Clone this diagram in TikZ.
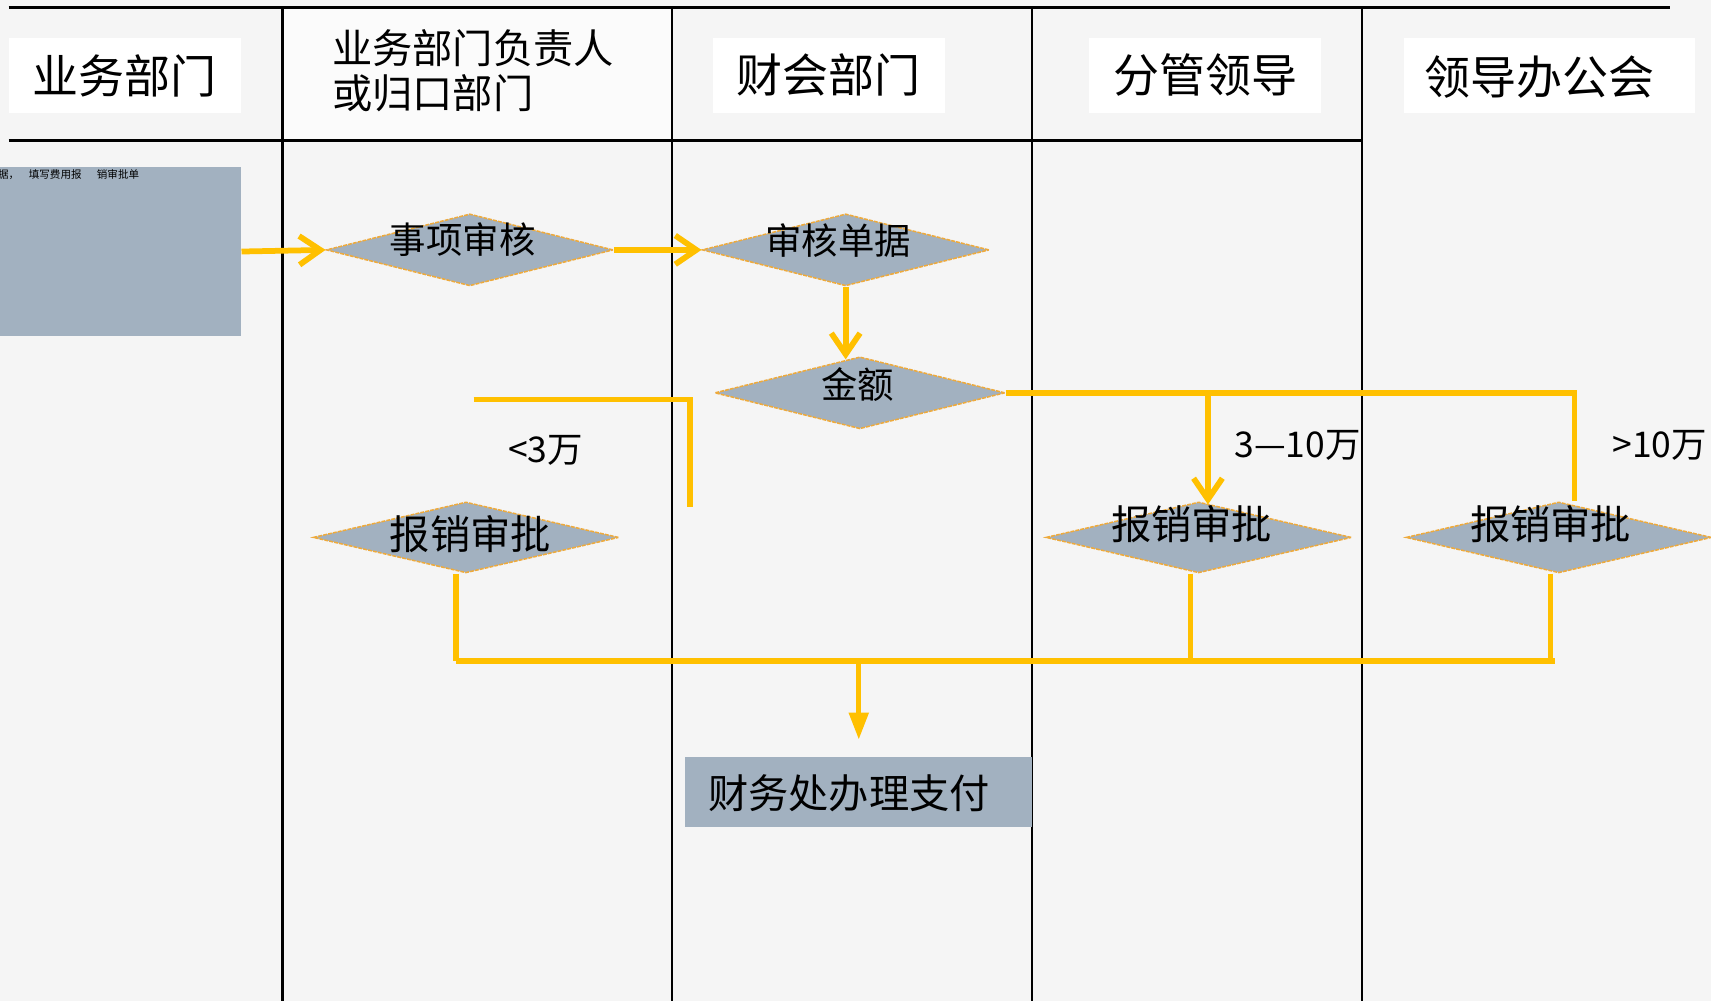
\documentclass[tikz,border=0pt]{standalone}
\usepackage{fontspec}
\setmainfont{Noto Sans CJK SC}
\usetikzlibrary{shapes.geometric}
\usetikzlibrary{arrows.meta}
\definecolor{bg}{RGB}{245,245,245}
\definecolor{boxblue}{RGB}{162,177,192}
\definecolor{flow}{RGB}{255,192,0}
\definecolor{rim}{RGB}{238,170,60}

\begin{document}
\begin{tikzpicture}[x=0.02cm, y=-0.02cm,
		lane/.style={line width=1.2pt},
		head/.style={fill=white, inner sep=0pt, minimum width=4.26cm, minimum height=1.38cm, font=\fontsize{24}{26}\selectfont},
		dia/.style={diamond, aspect=4, fill=boxblue, draw=rim, line width=0.8pt, dash pattern=on 2pt off 0.6pt, inner sep=0pt},
		blk/.style={fill=boxblue, inner sep=0pt},
		txt/.style={inner sep=0pt, font=\fontsize{19}{21}\selectfont},
		big/.style={inner sep=0pt, font=\fontsize{21}{23}\selectfont},
		lbl/.style={inner sep=0pt, font=\fontsize{18.5}{20}\selectfont},
		flowline/.style={draw=flow, line width=3pt},
		barb/.style={flowline, -{Straight Barb[length=11pt, width=15pt]}}]
		\fill[bg] (0,0) rectangle (1568,917);
		\useasboundingbox (0,0) rectangle (1568,917);
		\fill[white!60!bg] (259,7) rectangle (616,129);
		\draw[line width=1.5pt] (8,7) -- (1530,7);
		\draw[line width=1.7pt] (8,129) -- (1248,129);
		\foreach \x in {259,616,946,1248}
			\draw[lane] (\x,7) -- (\x,917);
		\node[head] (h1) at (114.5,69.5) {业务部门};
		\node[inner sep=0pt, align=left, anchor=west, font=\fontsize{21}{23.5}\selectfont] (h2) at (304,65) {业务部门负责人\\或归口部门};
		\node[head] (h3) at (759.5,69) {财会部门};
		\node[head] (h4) at (1104.5,69) {分管领导};
		\node[head, minimum width=5.32cm, text depth=0pt] (h5) at (1420,69) {\hspace{-10pt}领导办公会};
		\node[blk, minimum width=4.42cm, minimum height=3.1cm] (src) at (110.5,230.5) {};
		\node[inner sep=0pt, anchor=north west, font=\fontsize{5.5}{6}\selectfont] (srctxt) at (-2,155) {据，\hspace{5pt}填写费用报\hspace{8pt}销审批单};
		\node[dia, minimum width=5.26cm, minimum height=1.32cm] (d1) at (430.5,229) {};
		\node[txt] (t1) at (424,220) {事项审核};
		\node[dia, minimum width=5.26cm, minimum height=1.32cm] (d2) at (775,229) {};
		\node[txt] (t2) at (768,220) {审核单据};
		\node[dia, minimum width=5.32cm, minimum height=1.32cm] (d3) at (788,360) {};
		\node[txt] (t3) at (786,352) {金额};
		\node[dia, minimum width=5.6cm, minimum height=1.3cm] (d4) at (427,492.5) {};
		\node[big] (t4) at (431,489) {报销审批};
		\node[dia, minimum width=5.6cm, minimum height=1.3cm] (d5) at (1098.5,492.5) {};
		\node[big] (t5) at (1092,480) {报销审批};
		\node[dia, minimum width=5.6cm, minimum height=1.3cm] (d6) at (1428.5,492.5) {};
		\node[big] (t6) at (1421,480) {报销审批};
		\node[blk, minimum width=6.36cm, minimum height=1.28cm] (pay) at (787,726) {};
		\node[big] (t7) at (778,727) {财务处办理支付};
		\node[lbl] (lt3) at (500,413) {<3万};
		\node[lbl] (l310) at (1189,408) {3—10万};
		\node[lbl] (lgt10) at (1521,408) {>10万};
		\draw[barb] (src.east) -- (d1.west);
		\draw[barb] (d1.east) -- (d2.west);
		\draw[barb] (d2.south) -- ([yshift=-0.06cm]d2.south |- d3.north);
		\coordinate (j5) at (1107,360);
		\coordinate (j6) at (1443,360);
		\draw[flowline] (d3.east) -- (j6) -- (j6 |- d6.north);
		\draw[barb] (j5) -- ([yshift=-0.06cm]j5 |- d5.north);
		\coordinate (l1) at (434,366);
		\coordinate (l2) at (632,366);
		\coordinate (l3) at (632,465);
		\draw[flowline] (l1) -- (l2) -- (l3);
		\coordinate (b4) at (418,606);
		\coordinate (b5) at (1091,606);
		\coordinate (b6) at (1421,606);
		\draw[flowline] (b4 |- d4.south) -- (b4);
		\draw[flowline] (b5 |- d5.south) -- (b5);
		\draw[flowline] (b6 |- d6.south) -- (b6);
		\draw[flowline, line width=3.2pt] (b4) -- ([xshift=0.08cm]b6);
		\draw[flowline, line width=2.4pt, shorten >=0.32cm, -{Triangle[length=14pt, width=10pt]}] (pay.north |- b4) -- (pay.north);
	\end{tikzpicture}
\end{document}
